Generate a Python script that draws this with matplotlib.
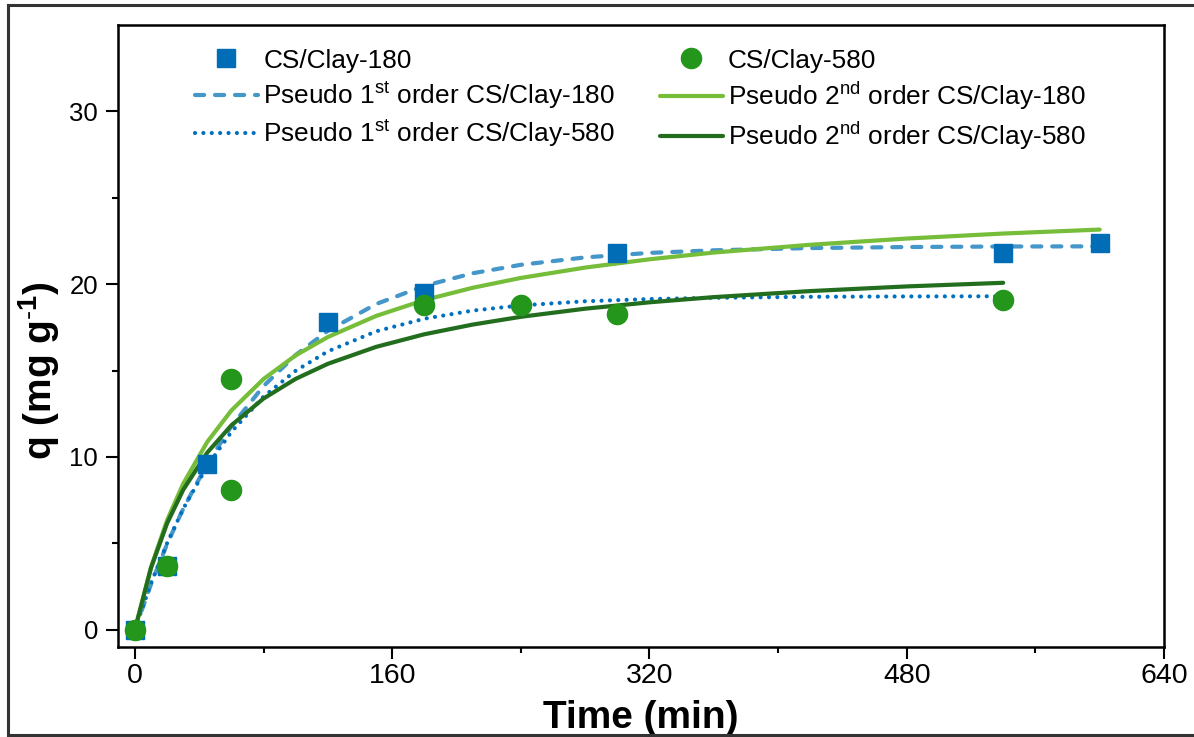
import matplotlib
matplotlib.use("Agg")
import matplotlib.pyplot as plt
from matplotlib.lines import Line2D

plt.rcParams['font.family'] = ['Liberation Sans', 'DejaVu Sans']
plt.rcParams['mathtext.fontset'] = 'custom'
plt.rcParams['mathtext.rm'] = 'Liberation Sans'
plt.rcParams['mathtext.bf'] = 'Liberation Sans:bold'

# measured points
t_180 = [0, 20, 45, 120, 180, 300, 540, 600]
q_180 = [0, 3.7, 9.6, 17.8, 19.5, 21.8, 21.8, 22.4]
t_580 = [0, 20, 60, 60, 180, 240, 300, 540]
q_580 = [0, 3.7, 14.5, 8.1, 18.8, 18.8, 18.3, 19.1]

# fitted curves
t_fit_180 = [0, 10, 20, 30, 45, 60, 80, 100, 120, 150, 180, 210, 240, 280,
             320, 360, 420, 480, 540, 600]
p1_180 = [0, 2.63, 4.95, 6.99, 9.61, 11.78, 14.10, 15.90, 17.30, 18.85, 19.90,
          20.63, 21.12, 21.55, 21.81, 21.96, 22.09, 22.15, 22.18, 22.19]
p2_180 = [0, 3.61, 6.33, 8.44, 10.87, 12.69, 14.51, 15.88, 16.94, 18.16, 19.08,
          19.79, 20.36, 20.96, 21.44, 21.83, 22.28, 22.64, 22.93, 23.16]
t_fit_580 = [0, 10, 20, 30, 45, 60, 80, 100, 120, 150, 180, 210, 240, 280,
             320, 360, 420, 480, 540]
p1_580 = [0, 2.69, 5.00, 6.99, 9.47, 11.45, 13.49, 14.99, 16.11, 17.27, 18.00,
          18.47, 18.77, 19.01, 19.14, 19.21, 19.27, 19.29, 19.30]
p2_580 = [0, 3.57, 6.15, 8.09, 10.25, 11.83, 13.38, 14.52, 15.39, 16.37, 17.10,
          17.66, 18.11, 18.58, 18.95, 19.25, 19.60, 19.87, 20.08]

fig = plt.figure(figsize=(11.94, 7.37), dpi=100)
ax = fig.add_axes([118/1194, 90/737, 1046/1194, 622/737])

sq, = ax.plot(t_180, q_180, 's', color='#006db6', ms=13, label='CS/Clay-180', zorder=3)
ci, = ax.plot(t_580, q_580, 'o', color='#23961b', ms=14.5, label='CS/Clay-580', zorder=3)
l1, = ax.plot(t_fit_180, p1_180, color='#4596c9', lw=3, dashes=(2.2, 2.6),
              dash_capstyle='round', label=r'Pseudo 1$^{\mathrm{st}}$ order CS/Clay-180')
l2, = ax.plot(t_fit_580, p1_580, color='#0070c0', lw=3, dashes=(0.01, 2.0),
              dash_capstyle='round', label=r'Pseudo 1$^{\mathrm{st}}$ order CS/Clay-580')
l3, = ax.plot(t_fit_180, p2_180, color='#76bd3a', lw=3, solid_capstyle='round',
              label=r'Pseudo 2$^{\mathrm{nd}}$ order CS/Clay-180')
l4, = ax.plot(t_fit_580, p2_580, color='#236e1e', lw=3, solid_capstyle='round',
              label=r'Pseudo 2$^{\mathrm{nd}}$ order CS/Clay-580')

ax.set_xlim(-10.5, 640)
ax.set_ylim(-1, 35)
ax.set_xticks([0, 160, 320, 480, 640])
ax.set_xticks([80, 240, 400, 560], minor=True)
ax.set_yticks([0, 10, 20, 30])
ax.set_yticks([5, 15, 25], minor=True)
ax.tick_params(which='major', length=8.3, width=1.5)
ax.tick_params(which='minor', length=4.3, width=1.5)
ax.tick_params(axis='x', which='major', labelsize=20.5, pad=3)
ax.tick_params(axis='y', which='major', labelsize=18.5, pad=6)
for s in ax.spines.values():
    s.set_linewidth(1.8)

ax.set_xlabel('Time (min)', fontsize=28, fontweight='bold')
ax.xaxis.set_label_coords(0.5, -0.085)
ax.set_ylabel(r'q (mg g$^{\mathbf{\text{-}1}}$)', fontsize=28, fontweight='bold')
ax.yaxis.set_label_coords(-0.0535, 0.445)

ax.legend(handles=[sq, l1, l2, ci, l3, l4], ncol=2, frameon=False, fontsize=18.9,
          loc='upper left', bbox_to_anchor=(0.0736, 0.962), borderpad=0,
          borderaxespad=0, handlelength=2.4, handletextpad=0.2,
          columnspacing=1.7, labelspacing=0.26, numpoints=1)

# outer frame (right side is cut off in the original)
frame_kw = dict(color='#333333', lw=2.2, transform=fig.transFigure)
fig.add_artist(Line2D([8/1194, 8/1194], [2/737, 732/737], **frame_kw))
fig.add_artist(Line2D([8/1194, 1.0], [732/737, 732/737], **frame_kw))
fig.add_artist(Line2D([8/1194, 1.0], [2/737, 2/737], **frame_kw))

fig.savefig('out.png', dpi=100)
